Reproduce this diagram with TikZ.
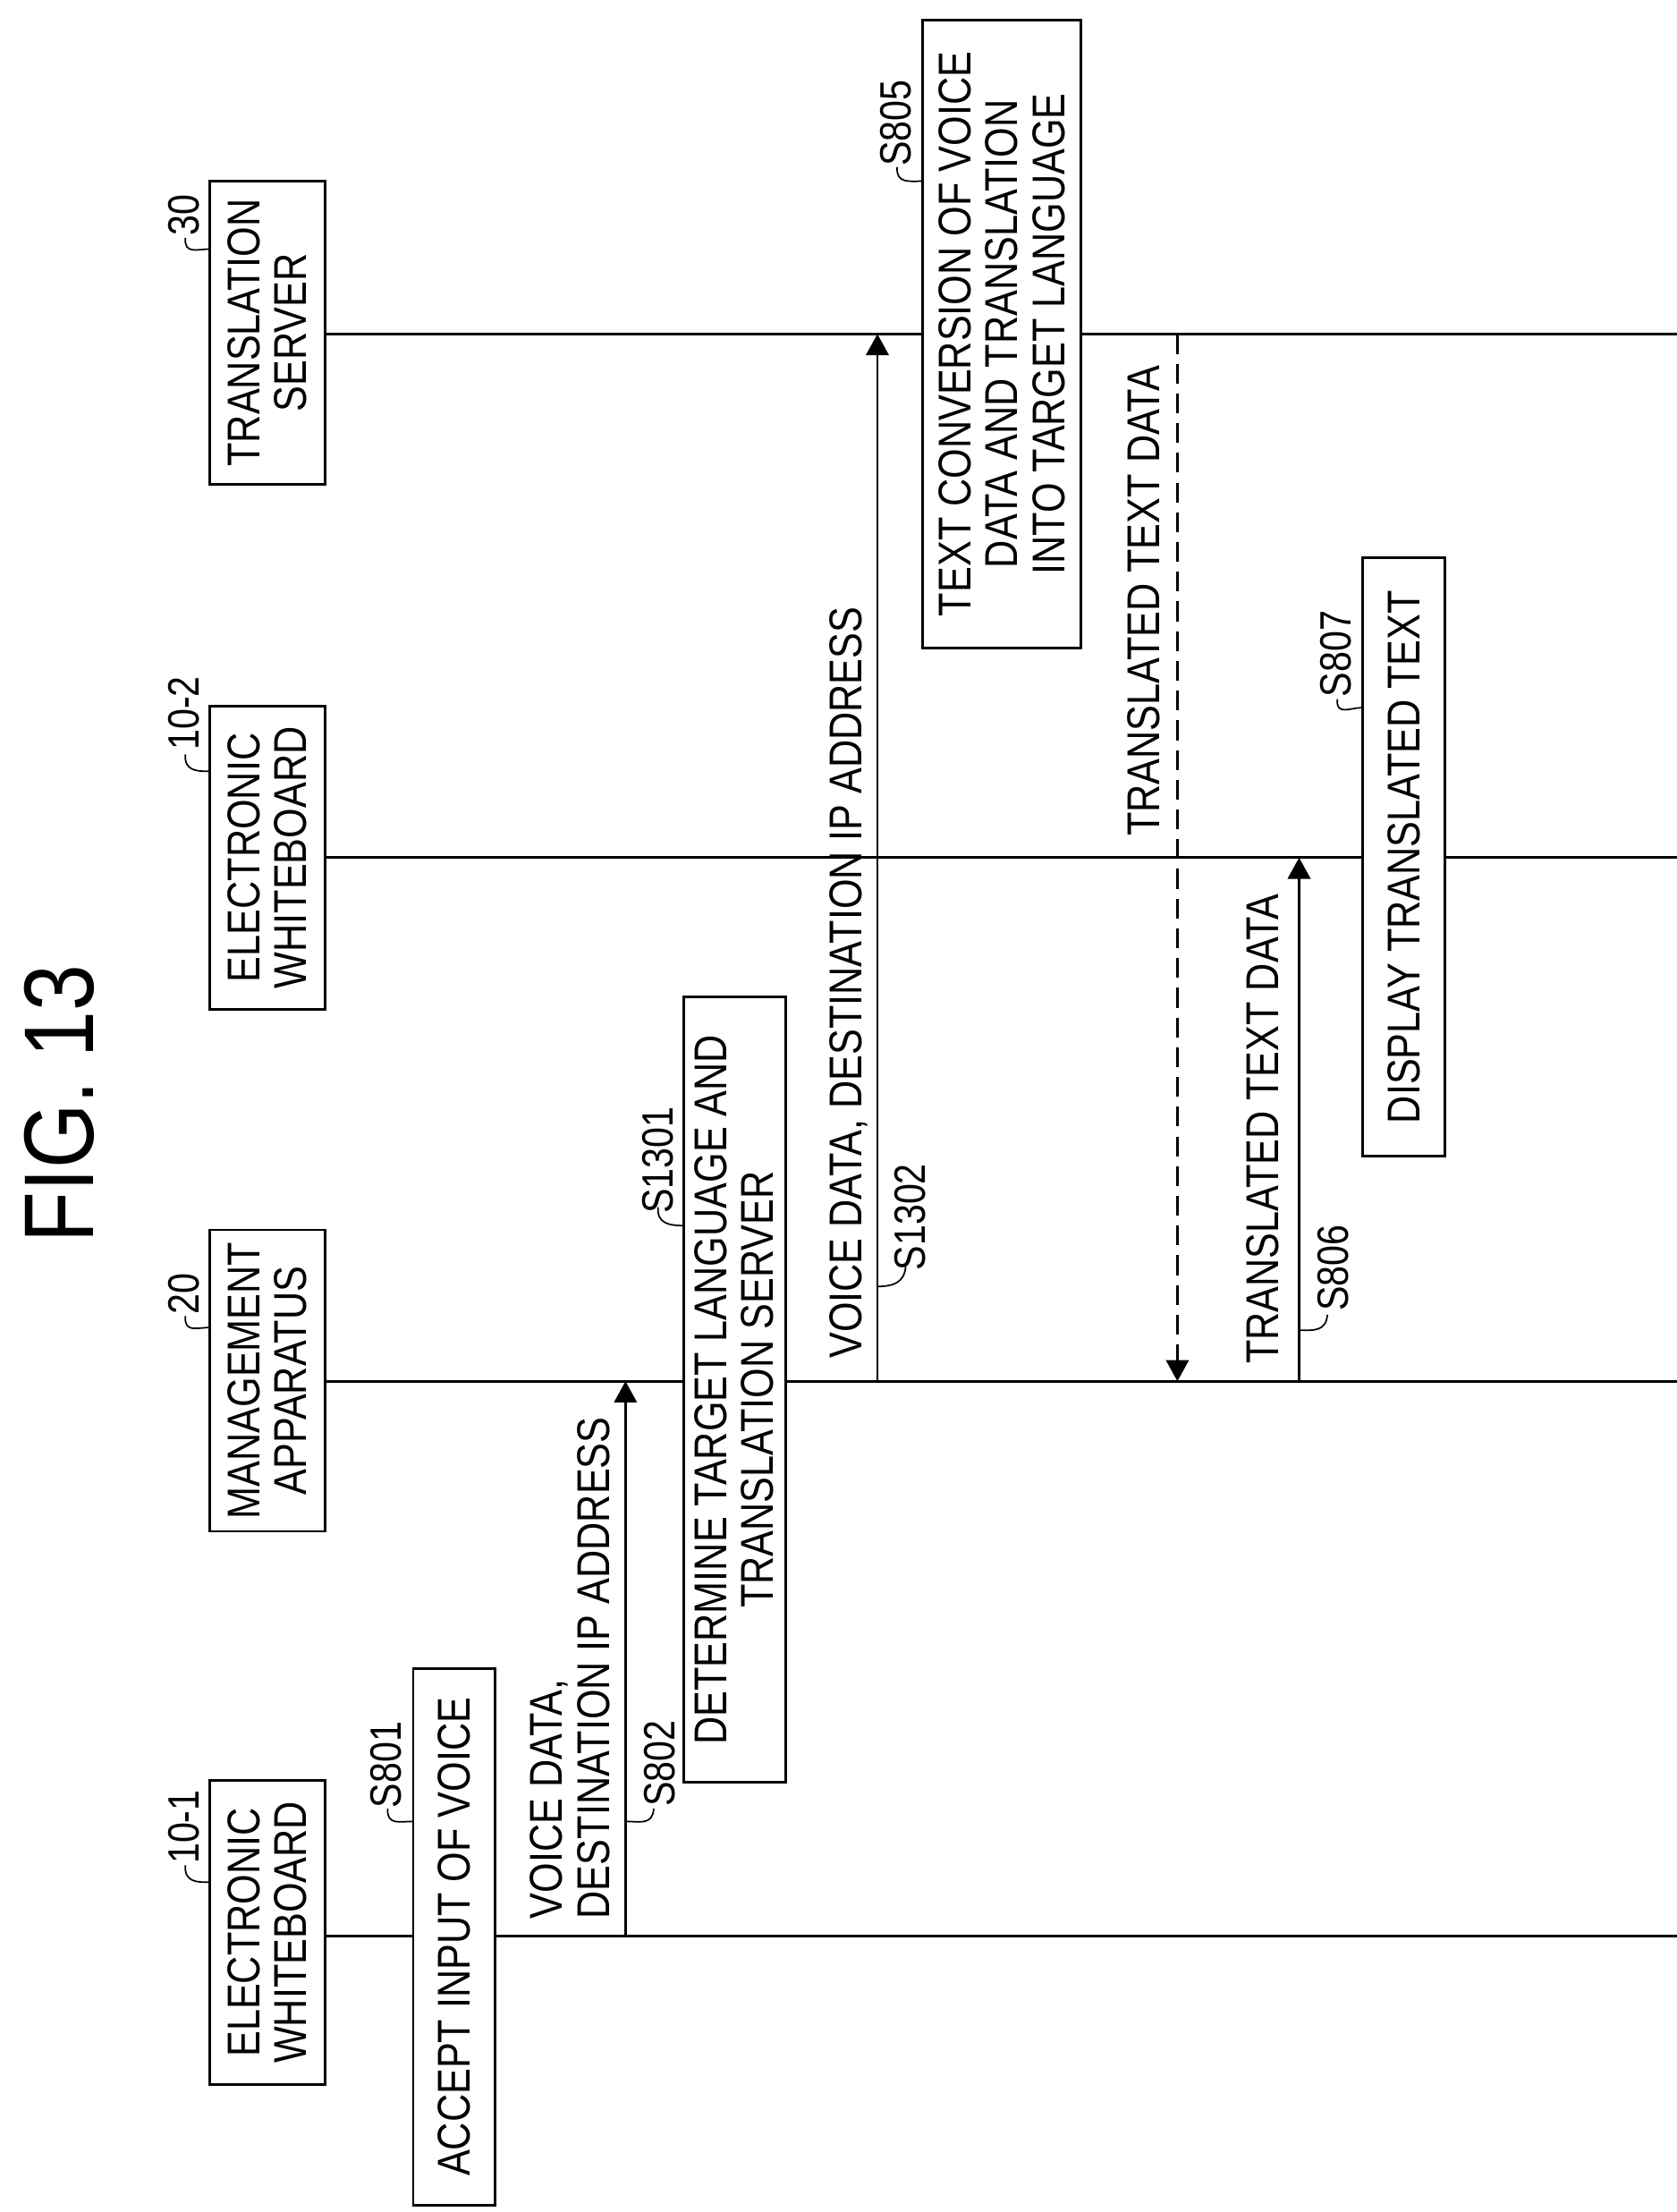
\documentclass[tikz,border=0pt]{standalone}
\usepackage{fontspec}
\setmainfont{Liberation Sans}[FakeStretch=0.84]
\usetikzlibrary{arrows.meta}
\begin{document}
\begin{tikzpicture}[x=1pt,y=-1pt,
  txt/.style={rotate=90,font=\fontsize{32.5}{33}\selectfont,inner sep=0pt,align=left},
  lab/.style={rotate=90,font=\fontsize{31}{33}\selectfont,inner sep=0pt},
  stepbox/.style={draw,fill=white,line width=1.8pt,rotate=90,align=center,font=\fontsize{32.5}{33}\selectfont,inner sep=2pt},
  life/.style={line width=1.8pt},
  msg/.style={line width=1.8pt,-{Triangle[length=15pt,width=16pt]}},
  sq/.style={line width=1.1pt}]
\useasboundingbox (0,0) rectangle (1185,1563);
\newcommand{\squig}[4]{\draw[sq] (#1,#2) .. controls (#1-1,#2+12) and ({(#1+#3)/2},#4) .. (#3,#4);}
\node[rotate=90,font=\fontsize{70}{74}\selectfont,inner sep=0pt] (title) at (42,780) {FIG. 13};
% lifeline boxes
\node[stepbox,minimum width=215pt,minimum height=82pt] (e1) at (189,1365.5) {ELECTRONIC\\WHITEBOARD};
\node[stepbox,minimum width=213pt,minimum height=82pt] (m) at (189,975.5) {MANAGEMENT\\APPARATUS};
\node[stepbox,minimum width=214pt,minimum height=82pt] (e2) at (189,606) {ELECTRONIC\\WHITEBOARD};
\node[stepbox,minimum width=214pt,minimum height=82pt] (t) at (189,235) {TRANSLATION\\SERVER};
\coordinate (e1end) at (1185,1368);
\coordinate (mend) at (1185,976);
\coordinate (e2end) at (1185,606);
\coordinate (tend) at (1185,236);
\draw[life] (e1.south|-e1end) -- (e1end);
\draw[life] (m.south|-mend) -- (mend);
\draw[life] (e2.south|-e2end) -- (e2end);
\draw[life] (t.south|-tend) -- (tend);
\node[lab] (l1) at (130,1291) {10-1}; \squig{131}{1318}{148}{1330}
\node[lab] (l2) at (130,914) {20}; \squig{131}{930}{148}{938}
\node[lab] (l3) at (130,504) {10-2}; \squig{131}{533}{148}{545}
\node[lab] (l4) at (130,152) {30}; \squig{131}{168}{148}{176}
% S801
\node[stepbox,minimum width=379pt,minimum height=58pt] (s801) at (321,1368.5) {ACCEPT INPUT OF VOICE};
\node[lab] (s801l) at (273,1247) {S801}; \squig{274}{1278}{292}{1287}
% S802
\coordinate (a1) at (442,1368); \coordinate (a2) at (442,976);
\draw[msg] (a1) -- (a2);
\node[txt,anchor=south west] (t802) at (431,1356) {VOICE DATA,\\DESTINATION IP ADDRESS};
\node[lab] (s802l) at (466,1246) {S802}; \squig{462}{1278}{442}{1287}
% S1301
\node[stepbox,minimum width=555pt,minimum height=72pt] (s1301) at (519,982) {DETERMINE TARGET LANGUAGE AND\\TRANSLATION SERVER};
\node[lab] (s1301l) at (465,820) {S1301}; \squig{465}{853}{483}{866}
% S1302
\coordinate (b1) at (620,976); \coordinate (b2) at (620,236);
\draw[msg] (b1) -- (b2);
\node[txt,anchor=south west] (t1302) at (613,960) {VOICE DATA, DESTINATION IP ADDRESS};
\node[lab] (s1302l) at (643,860) {S1302}; \squig{640}{895}{620}{909}
% S805
\node[stepbox,minimum width=444pt,minimum height=112pt] (s805) at (708,236) {TEXT CONVERSION OF VOICE\\DATA AND TRANSLATION\\INTO TARGET LANGUAGE};
\node[lab] (s805l) at (633,87) {S805}; \squig{634}{118}{652}{128}
% dashed
\coordinate (c1) at (832,236); \coordinate (c2) at (832,976);
\draw[msg,dash pattern=on 14pt off 7pt] (c1) -- (c2);
\node[txt,anchor=south west] (tdash) at (820,591) {TRANSLATED TEXT DATA};
% S806
\coordinate (d1) at (918,976); \coordinate (d2) at (918,606);
\draw[msg] (d1) -- (d2);
\node[txt,anchor=south west] (t806) at (904,964) {TRANSLATED TEXT DATA};
\node[lab] (s806l) at (942,896) {S806}; \squig{938}{929}{918}{940}
% S807
\node[stepbox,minimum width=423pt,minimum height=58pt] (s807) at (992,605.5) {DISPLAY TRANSLATED TEXT};
\node[lab] (s807l) at (944,462) {S807}; \squig{945}{494}{963}{500}
\end{tikzpicture}
\end{document}
